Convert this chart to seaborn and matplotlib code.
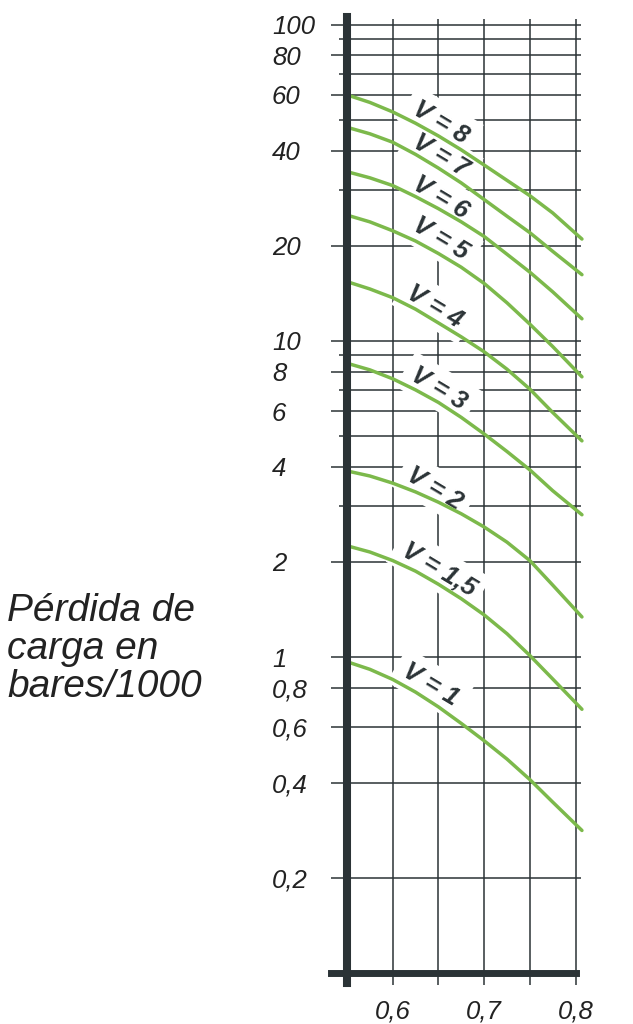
import numpy as np
import pandas as pd
import matplotlib.pyplot as plt
import seaborn as sns
from matplotlib.ticker import NullFormatter

# caudal (eje x) y pérdida de carga (bares/1000) para cada velocidad V
x_vals = [0.55, 0.575, 0.60, 0.625, 0.65, 0.675, 0.70, 0.725, 0.75, 0.775, 0.807]
v8 = [60.0, 56.8, 53.0, 48.8, 44.5, 40.2, 36.0, 32.2, 28.8, 25.4, 21.0]
v7 = [47.4, 45.2, 42.5, 38.9, 35.2, 31.6, 28.0, 24.8, 22.0, 19.2, 16.2]
v6 = [34.3, 32.8, 31.0, 28.6, 26.2, 23.8, 21.4, 18.8, 16.5, 14.3, 11.75]
v5 = [25.0, 23.8, 22.3, 20.7, 18.9, 17.1, 15.2, 13.2, 11.3, 9.6, 7.7]
v4 = [15.4, 14.6, 13.7, 12.6, 11.4, 10.3, 9.24, 8.14, 7.04, 5.94, 4.83]
v3 = [8.50, 8.10, 7.59, 7.00, 6.39, 5.73, 5.08, 4.47, 3.91, 3.36, 2.82]
v2 = [3.88, 3.74, 3.55, 3.33, 3.09, 2.84, 2.58, 2.31, 2.02, 1.69, 1.34]
v15 = [2.25, 2.15, 2.02, 1.87, 1.70, 1.53, 1.36, 1.186, 1.012, 0.853, 0.684]
v1 = [0.967, 0.915, 0.850, 0.775, 0.696, 0.617, 0.544, 0.476, 0.410, 0.348, 0.283]

series = {'8': v8, '7': v7, '6': v6, '5': v5, '4': v4,
          '3': v3, '2': v2, '1,5': v15, '1': v1}

# ticks
y_major = [100, 80, 60, 40, 20, 10, 8, 6, 4, 2, 1, 0.8, 0.6, 0.4, 0.2]
y_major_labels = ['100', '80', '60', '40', '20', '10', '8', '6', '4', '2',
                  '1', '0,8', '0,6', '0,4', '0,2']
y_minor = [90, 70, 50, 30, 9, 7, 5, 3]
x_ticks = [0.6, 0.65, 0.7, 0.75, 0.8]
x_tick_labels = ['0,6', '', '0,7', '', '0,8']

# label positions for each curve (x, y)
label_pos = {'8': (0.652, 49.1), '7': (0.652, 38.5), '6': (0.652, 28.4),
             '5': (0.652, 21.0), '4': (0.646, 12.8), '3': (0.650, 7.07),
             '2': (0.646, 3.41), '1,5': (0.650, 1.89), '1': (0.641, 0.82)}

rows = []
for v, vals in series.items():
    for x, y in zip(x_vals, vals):
        rows.append({'x': x, 'perdida': y, 'V': v})
df = pd.DataFrame(rows)

sns.set_theme(style='white')
plt.rcParams['font.family'] = ['Liberation Sans', 'DejaVu Sans']

green = '#7cb94b'
dark = '#2b3336'

fig = plt.figure(figsize=(6.33, 10.24), dpi=100)
ax = fig.add_axes([0.5482, 0.0495, 0.3697, 0.9316])

sns.lineplot(data=df, x='x', y='perdida', hue='V', hue_order=list(series.keys()),
             palette=[green] * len(series), legend=False, linewidth=2.5,
             sort=True, ax=ax, zorder=4)
for line in ax.lines:
    line.set_clip_on(False)
    line.set_solid_joinstyle('round')

ax.set_yscale('log')
ax.set_ylim(0.1, 104)
ax.set_xlim(0.55, 0.806)

ax.set_yticks(y_major, labels=y_major_labels)
ax.set_yticks(y_minor, minor=True)
ax.yaxis.set_minor_formatter(NullFormatter())
ax.set_xticks(x_ticks, labels=x_tick_labels)

ax.tick_params(axis='y', which='major', direction='out', length=11.5, width=1.1,
               color=dark, pad=42.5, labelsize=18.5, labelcolor='#222222', left=True)
ax.tick_params(axis='y', which='minor', direction='out', length=5.8, width=1.1,
               color=dark, left=True)
ax.tick_params(axis='x', which='major', direction='out', length=8.6, width=1.1,
               color=dark, pad=10, labelsize=18.5, labelcolor='#222222', bottom=True)
for t in ax.get_yticklabels():
    t.set_horizontalalignment('left')
    t.set_style('italic')
for t in ax.get_xticklabels():
    t.set_style('italic')

ax.grid(True, which='both', axis='y', color=dark, linewidth=1.1)
ax.grid(True, which='major', axis='x', color=dark, linewidth=1.1)
ax.set_axisbelow(True)

for s in ['top', 'right']:
    ax.spines[s].set_visible(False)
ax.spines['left'].set_linewidth(5.8)
ax.spines['left'].set_color(dark)
ax.spines['left'].set_bounds(0.0929, 105.8)
ax.spines['left'].set_zorder(6)
ax.spines['bottom'].set_linewidth(5.0)
ax.spines['bottom'].set_color(dark)
ax.spines['bottom'].set_bounds(0.5325, 0.8)
ax.spines['bottom'].set_zorder(6)

for v, (lx, ly) in label_pos.items():
    ax.text(lx, ly, 'V = ' + v, rotation=-31, rotation_mode='anchor',
            ha='center', va='center', fontsize=18.5, fontweight='bold',
            style='italic', color=dark, zorder=3,
            family=['Liberation Sans Narrow', 'Liberation Sans', 'DejaVu Sans'],
            bbox=dict(facecolor='white', edgecolor='none', pad=6))

ax.set_xlabel('')
ax.set_ylabel('')

fig.text(7 / 633, 0.366, 'Pérdida de\ncarga en\nbares/1000', fontsize=28,
         style='italic', color='#222222', ha='left', va='center', linespacing=1.08)

fig.savefig('out.png', dpi=100)
